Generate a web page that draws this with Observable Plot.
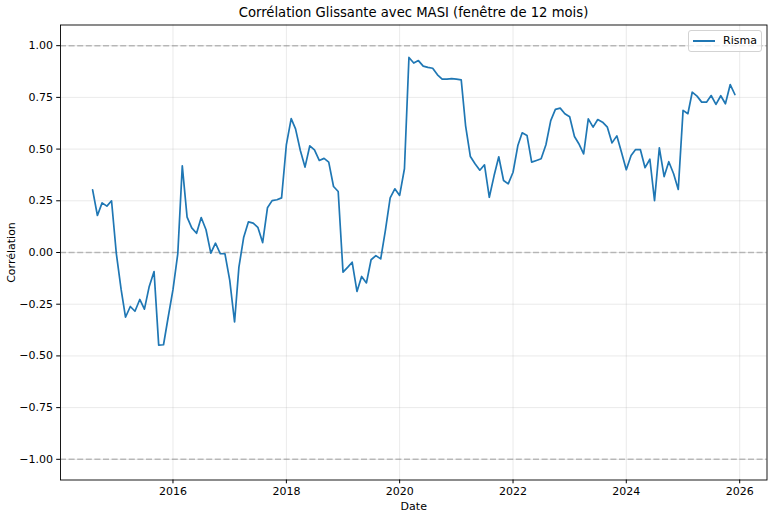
<!DOCTYPE html>
<html><head><meta charset="utf-8">
<script src="https://cdn.jsdelivr.net/npm/d3@7"></script>
<script src="https://cdn.jsdelivr.net/npm/@observablehq/plot@0.6"></script>
<style>
body{margin:0;background:#fff;font-family:"DejaVu Sans",sans-serif;}
#wrap{position:relative;width:768px;height:514px;overflow:hidden;}
#title{height:24px;line-height:26px;padding-left:60px;width:707px;text-align:center;font-size:13.2px;color:#000;white-space:nowrap;}
#chart svg{display:block;overflow:visible;}
#legend{position:absolute;left:688px;top:30px;width:72px;height:20px;border:1px solid #d3d3d3;border-radius:3px;background:rgba(255,255,255,0.8);font-size:11px;}
#legend .sw{position:absolute;left:4px;top:9px;width:22px;height:1.8px;background:#1f77b4;}
#legend .lb{position:absolute;left:34px;top:3px;line-height:13px;}
</style></head>
<body>
<div id="wrap">
  <div id="title">Corrélation Glissante avec MASI (fenêtre de 12 mois)</div>
  <div id="chart"></div>
  <div id="legend"><div class="sw"></div><div class="lb">Risma</div></div>
</div>
<script>
const seriesName = "Risma";
const startYear = 2014, startMonth = 7; // August 2014 (0-based month)
const values = [
  0.303, 0.179, 0.240, 0.224, 0.250, -0.006, -0.180, -0.313, -0.261, -0.284,
  -0.227, -0.274, -0.164, -0.092, -0.448, -0.446, -0.313, -0.180, -0.006, 0.419,
  0.171, 0.119, 0.093, 0.169, 0.110, -0.003, 0.045, -0.006, -0.006, -0.135,
  -0.336, -0.071, 0.074, 0.148, 0.142, 0.122, 0.048, 0.216, 0.251, 0.255,
  0.264, 0.522, 0.647, 0.598, 0.493, 0.413, 0.516, 0.496, 0.445, 0.455,
  0.437, 0.319, 0.295, -0.095, -0.071, -0.047, -0.188, -0.116, -0.147, -0.035,
  -0.015, -0.031, 0.106, 0.264, 0.308, 0.276, 0.405, 0.943, 0.916, 0.928,
  0.901, 0.895, 0.891, 0.859, 0.838, 0.838, 0.841, 0.838, 0.835, 0.614,
  0.464, 0.429, 0.398, 0.424, 0.267, 0.372, 0.463, 0.348, 0.332, 0.388,
  0.517, 0.579, 0.566, 0.437, 0.445, 0.453, 0.521, 0.638, 0.692, 0.698,
  0.671, 0.656, 0.561, 0.526, 0.477, 0.646, 0.606, 0.643, 0.630, 0.606,
  0.530, 0.564, 0.485, 0.400, 0.469, 0.498, 0.497, 0.410, 0.451, 0.251,
  0.506, 0.367, 0.439, 0.381, 0.305, 0.687, 0.671, 0.775, 0.756, 0.727,
  0.727, 0.759, 0.716, 0.758, 0.719, 0.812, 0.764
];
const xTickYears = [2016, 2018, 2020, 2022, 2024, 2026];
const yTicks = [-1.0, -0.75, -0.5, -0.25, 0.0, 0.25, 0.5, 0.75, 1.0];
const refLines = [-1, 0, 1];
const yDomain = [-1.1, 1.1];

const data = values.map((v, i) => ({date: new Date(Date.UTC(startYear, startMonth + i, 1)), value: v}));
const xTicks = xTickYears.map(y => new Date(Date.UTC(y, 0, 1)));
const t0 = +data[0].date, t1 = +data[data.length - 1].date;
const pad = (t1 - t0) * 0.05;
const xDomain = [new Date(t0 - pad), new Date(t1 + pad)];

const grid = {stroke: "#b0b0b0", strokeOpacity: 0.3, strokeWidth: 0.9};

const chart = Plot.plot({
  width: 768,
  height: 490,
  marginLeft: 60,
  marginRight: 1.5,
  marginTop: 0.5,
  marginBottom: 34.5,
  style: {fontFamily: "DejaVu Sans, sans-serif", fontSize: "11px", color: "#000", background: "#fff"},
  x: {type: "utc", domain: xDomain},
  y: {domain: yDomain},
  marks: [
    Plot.ruleX(xTicks, grid),
    Plot.ruleY(yTicks, grid),
    Plot.ruleY(refLines, {stroke: "#808080", strokeOpacity: 0.5, strokeWidth: 1.6, strokeDasharray: "6,2.6"}),
    Plot.line(data, {x: "date", y: "value", stroke: "#1f77b4", strokeWidth: 1.7}),
    Plot.frame({stroke: "#000", strokeWidth: 0.9}),
    Plot.axisX({ticks: xTicks, tickFormat: d3.utcFormat("%Y"), tickSize: 3.8, tickPadding: 3.8, fontSize: 11,
      label: "Date", labelAnchor: "center", labelArrow: "none", labelOffset: 30}),
    Plot.axisY({ticks: yTicks, tickFormat: d3.format(".2f"), tickSize: 3.8, tickPadding: 3.8, fontSize: 11,
      label: "Corrélation", labelAnchor: "center", labelArrow: "none", labelOffset: 53})
  ]
});
document.getElementById("chart").appendChild(chart);
</script>
</body></html>
